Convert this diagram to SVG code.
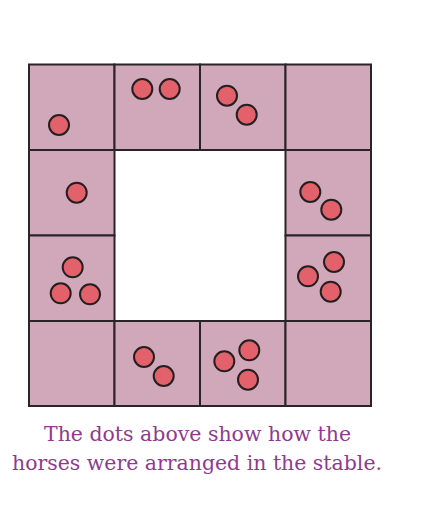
<svg xmlns="http://www.w3.org/2000/svg" width="423" height="508" viewBox="0 0 423 508">
<style>
.cell{fill:#D1A8BA;stroke:#2A2426;stroke-width:2}
.dot{fill:#E2616B;stroke:#231F20;stroke-width:2}
.cap{font-family:"DejaVu Serif","Liberation Serif",serif;font-size:20px;fill:#8E3A92;text-anchor:middle}
</style>
<rect width="423" height="508" fill="#FFFFFF"/>
<g id="cell-r0c0"><rect class="cell" x="29" y="64.5" width="85.5" height="85.5"/><circle class="dot" cx="59" cy="125" r="10"/></g>
<g id="cell-r0c1"><rect class="cell" x="114.5" y="64.5" width="85.5" height="85.5"/><circle class="dot" cx="142.3" cy="89" r="10"/><circle class="dot" cx="169.7" cy="89" r="10"/></g>
<g id="cell-r0c2"><rect class="cell" x="200" y="64.5" width="85.5" height="85.5"/><circle class="dot" cx="227" cy="95.7" r="10"/><circle class="dot" cx="246.7" cy="114.7" r="10"/></g>
<g id="cell-r0c3"><rect class="cell" x="285.5" y="64.5" width="85.5" height="85.5"/></g>
<g id="cell-r1c0"><rect class="cell" x="29" y="150" width="85.5" height="85.5"/><circle class="dot" cx="76.7" cy="192.7" r="10"/></g>
<g id="cell-r1c3"><rect class="cell" x="285.5" y="150" width="85.5" height="85.5"/><circle class="dot" cx="310.3" cy="192" r="10"/><circle class="dot" cx="331.3" cy="209.7" r="10"/></g>
<g id="cell-r2c0"><rect class="cell" x="29" y="235.5" width="85.5" height="85.5"/><circle class="dot" cx="72.7" cy="267.3" r="10"/><circle class="dot" cx="60.7" cy="293.3" r="10"/><circle class="dot" cx="90" cy="294.3" r="10"/></g>
<g id="cell-r2c3"><rect class="cell" x="285.5" y="235.5" width="85.5" height="85.5"/><circle class="dot" cx="334" cy="262" r="10"/><circle class="dot" cx="308" cy="276.3" r="10"/><circle class="dot" cx="330.7" cy="291.7" r="10"/></g>
<g id="cell-r3c0"><rect class="cell" x="29" y="321" width="85.5" height="85"/></g>
<g id="cell-r3c1"><rect class="cell" x="114.5" y="321" width="85.5" height="85"/><circle class="dot" cx="144" cy="357" r="10"/><circle class="dot" cx="163.7" cy="376" r="10"/></g>
<g id="cell-r3c2"><rect class="cell" x="200" y="321" width="85.5" height="85"/><circle class="dot" cx="249.3" cy="350.3" r="10"/><circle class="dot" cx="224.3" cy="361.3" r="10"/><circle class="dot" cx="248" cy="379.7" r="10"/></g>
<g id="cell-r3c3"><rect class="cell" x="285.5" y="321" width="85.5" height="85"/></g>
<g id="connectors"/>
<g id="caption">
<text class="cap" x="197.5" y="441" textLength="307" lengthAdjust="spacingAndGlyphs">The dots above show how the</text>
<text class="cap" x="197" y="470" textLength="370" lengthAdjust="spacingAndGlyphs">horses were arranged in the stable.</text>
</g>
</svg>
